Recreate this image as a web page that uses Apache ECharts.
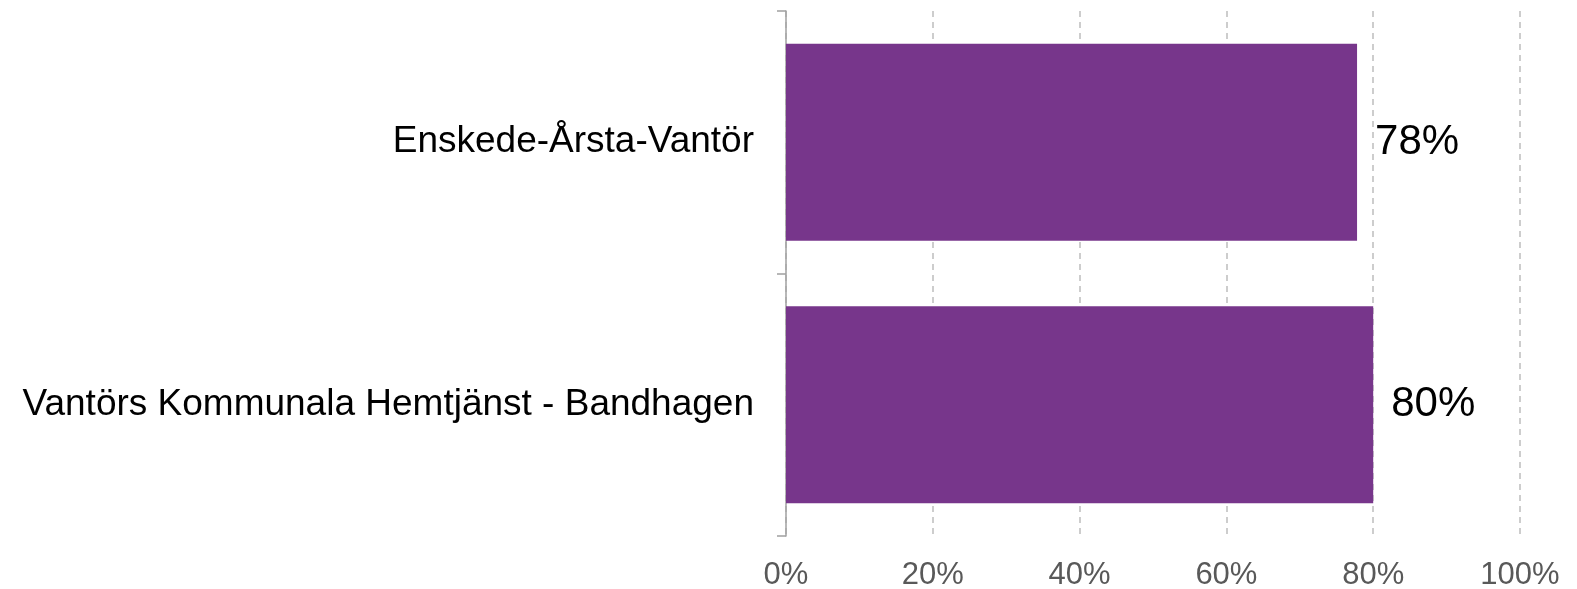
<!DOCTYPE html>
<html>
<head>
<meta charset="utf-8">
<script src="https://cdn.jsdelivr.net/npm/echarts@6/dist/echarts.min.js"></script>
<style>
html,body{margin:0;padding:0;background:#fff;}
#chart{width:1577px;height:589px;}
</style>
</head>
<body>
<div id="chart"></div>
<script>
const categories = ['Enskede-Årsta-Vantör', 'Vantörs Kommunala Hemtjänst - Bandhagen'];
const values = [77.8, 80];
const xTicks = [0, 20, 40, 60, 80, 100];

const chart = echarts.init(document.getElementById('chart'));
chart.setOption({
  animation: false,
  backgroundColor: '#ffffff',
  grid: { left: 786, right: 57, top: 11, bottom: 53, containLabel: false, outerBoundsMode: 'none' },
  xAxis: {
    type: 'value', min: xTicks[0], max: xTicks[xTicks.length - 1], interval: xTicks[1] - xTicks[0],
    axisLine: { show: false },
    axisTick: { show: false },
    splitLine: { show: true, lineStyle: { color: '#BDBDBD', width: 1.5, type: [6, 5] } },
    axisLabel: {
      formatter: v => v + '%',
      color: '#595959', fontFamily: 'Liberation Sans', fontSize: 31, margin: 24
    }
  },
  yAxis: {
    type: 'category', data: categories, inverse: true,
    axisLine: { show: true, lineStyle: { color: '#A0A0A0', width: 1.5 } },
    axisTick: { show: true, length: 9, lineStyle: { color: '#A0A0A0', width: 1.5 } },
    axisLabel: { color: '#000000', fontFamily: 'Liberation Sans', fontSize: 37, margin: 32 }
  },
  series: [{
    type: 'bar', data: values, barCategoryGap: '25%',
    itemStyle: { color: '#77368B' },
    label: {
      show: true, position: 'right', distance: 18,
      formatter: p => Math.round(p.value) + '%',
      color: '#000000', fontFamily: 'Liberation Sans', fontSize: 42
    }
  }]
});
</script>
</body>
</html>
